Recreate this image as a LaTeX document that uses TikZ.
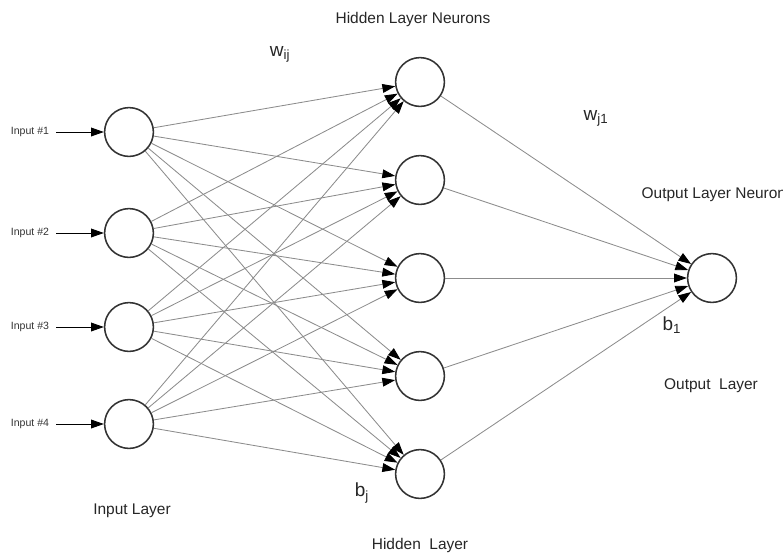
\documentclass[tikz,border=0pt]{standalone}
\usepackage{fontspec}
\setmainfont{Liberation Sans}
\usetikzlibrary{arrows.meta,positioning}
\definecolor{nnWire}{HTML}{8C8C8C}
\definecolor{nnRing}{HTML}{333333}

\begin{document}
\begin{tikzpicture}[font=\small,
    neuron/.style={circle,draw=nnRing,fill=white,line width=1.1pt,
                   minimum size=1.22cm,inner sep=0pt},
    inlbl/.style={font=\fontsize{7.5}{9}\selectfont,text=black!80,inner sep=1pt},
    layertxt/.style={font=\fontsize{11}{13}\selectfont,text=black!85,inner sep=1pt},
    wt/.style={font=\fontsize{13.5}{15}\selectfont,text=black!85,inner sep=1pt},
    wire/.style={-{Triangle[length=3.2mm,width=2.2mm,color=black]},nnWire,line width=0.6pt},
    feed/.style={-{Triangle[length=3.2mm,width=2.2mm]},black,line width=0.6pt}]
  \useasboundingbox (0,0) rectangle (19.575,-13.85);
  % input layer
  \foreach \i/\y in {1/-3.3,2/-5.825,3/-8.175,4/-10.6}{
    \node[neuron] (x\i) at (3.225,\y) {};
    \node[inlbl] (lx\i) at (0.75,\y) {Input \#\i};
    \draw[feed] ([xshift=4pt]lx\i.east) -- (x\i);
  }
  % hidden + output
  \foreach \j/\y in {1/-2.05,2/-4.5,3/-6.95,4/-9.4,5/-11.85}
    \node[neuron] (h\j) at (10.5,\y) {};
  \node[neuron] (o) at (17.8,-6.95) {};
  \foreach \i in {1,...,4}
    \foreach \j in {1,...,5}
      \draw[wire] (x\i) -- (h\j);
  \foreach \j in {1,...,5}
    \draw[wire] (h\j) -- (o);
  % labels
  \node[layertxt] (thn) at (10.325,-0.475) {Hidden Layer Neurons};
  \node[wt]  (wij) at (7.0,-1.35) {w\textsubscript{ij}};
  \node[wt]  (wj1) at (14.9,-2.95) {w\textsubscript{j1}};
  \node[layertxt,anchor=west] (ton) at (16.0,-4.875) {Output Layer Neuron};
  \node[wt]  (b1) at (16.8,-8.125) {b\textsubscript{1}};
  \node[layertxt] (tol) at (17.775,-9.65) {Output\ \ Layer};
  \node[wt]  (bj) at (9.05,-12.325) {b\textsubscript{j}};
  \node[layertxt] (til) at (3.3,-12.775) {Input Layer};
  \node[layertxt] (thl) at (10.5,-13.625) {Hidden\ \ Layer};
\end{tikzpicture}
\end{document}
